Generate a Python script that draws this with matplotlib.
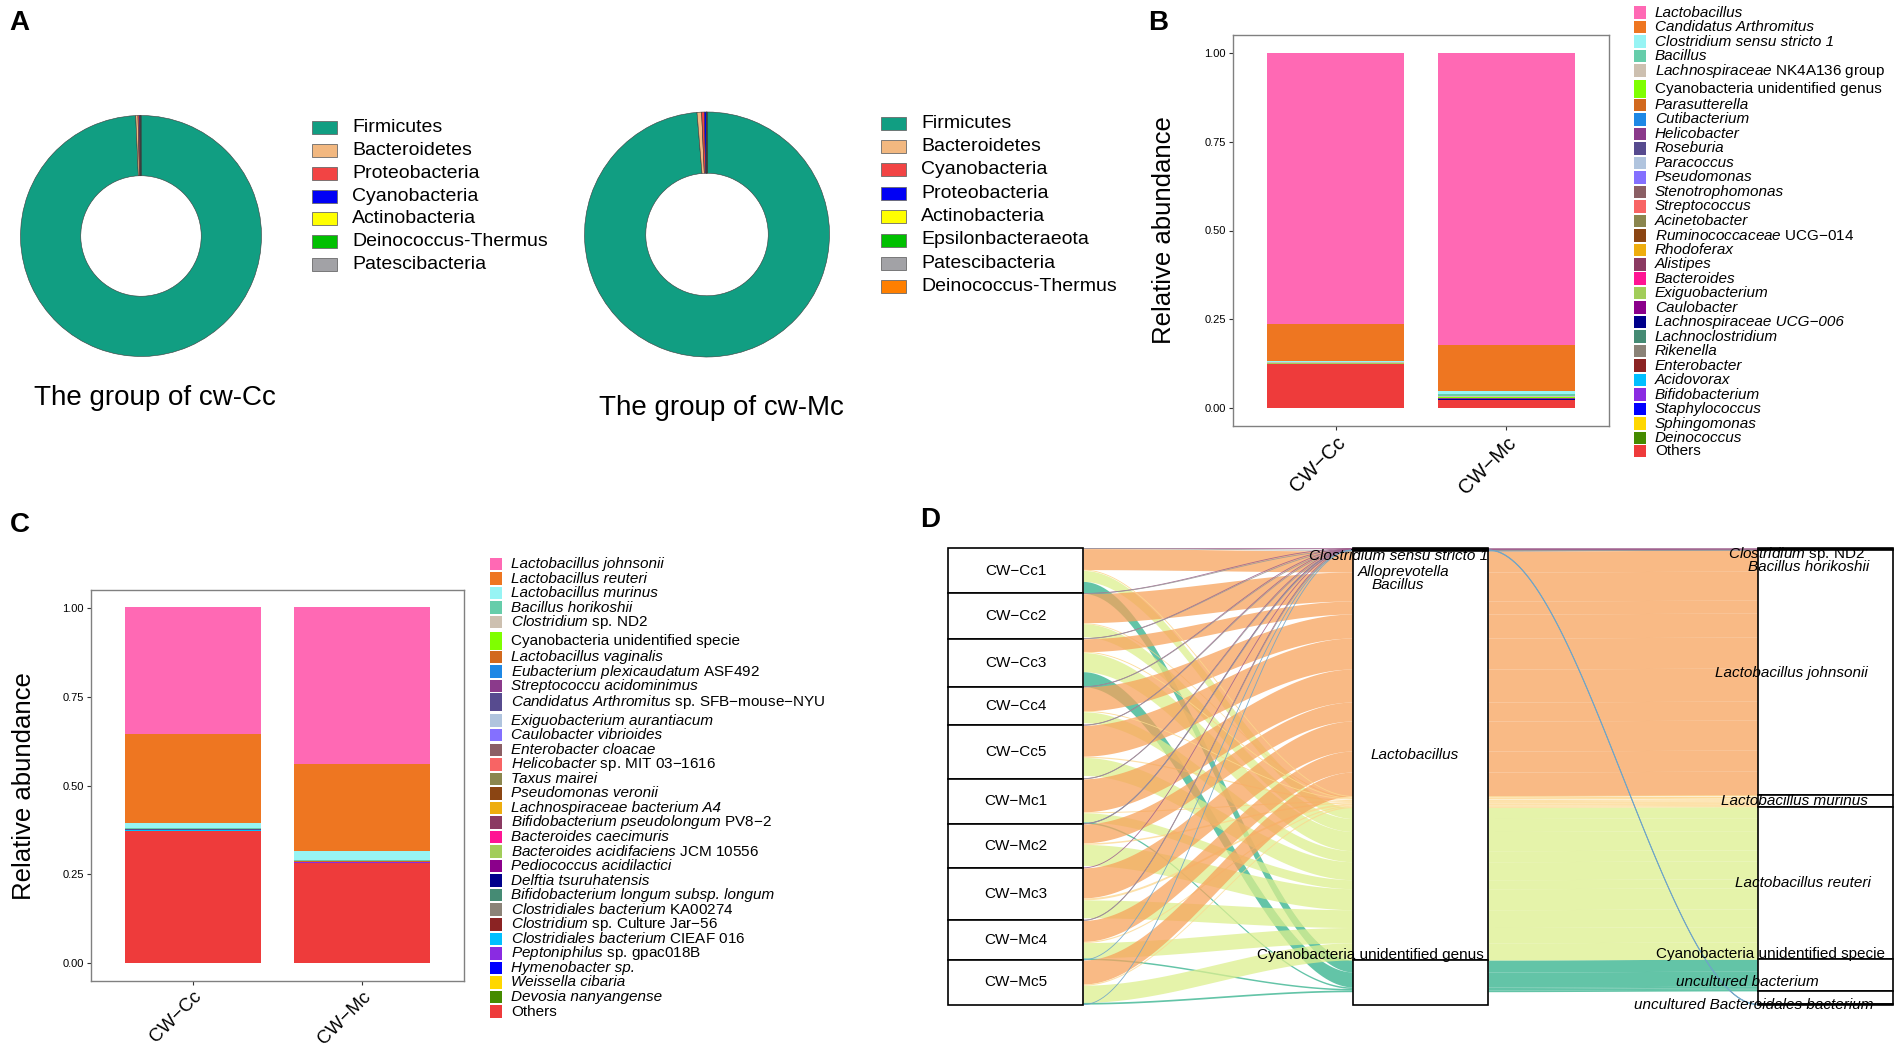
import matplotlib
matplotlib.use("Agg")
import matplotlib.pyplot as plt
from matplotlib.patches import Rectangle
import numpy as np

W, H = 1902, 1049
plt.rcParams["font.family"] = "Liberation Sans"
plt.rcParams["mathtext.fontset"] = "custom"
plt.rcParams["mathtext.it"] = "Liberation Sans:italic"
plt.rcParams["mathtext.rm"] = "Liberation Sans"

# ---------------- data ----------------
# A: phylum composition (%)
phyla_cc = ["Firmicutes", "Bacteroidetes", "Proteobacteria", "Cyanobacteria",
            "Actinobacteria", "Deinococcus-Thermus", "Patescibacteria"]
share_cc = [99.30, 0.30, 0.20, 0.10, 0.04, 0.03, 0.03]
colors_cc = ["#119E82", "#F2B880", "#F24444", "#0000F5", "#FFFF00", "#00C000", "#A2A2A6"]

phyla_mc = ["Firmicutes", "Bacteroidetes", "Cyanobacteria", "Proteobacteria",
            "Actinobacteria", "Epsilonbacteraeota", "Patescibacteria", "Deinococcus-Thermus"]
share_mc = [98.70, 0.60, 0.35, 0.25, 0.05, 0.02, 0.02, 0.01]
colors_mc = ["#119E82", "#F2B880", "#F24444", "#0000F5", "#FFFF00", "#00C000", "#A2A2A6", "#FF7F00"]

# shared 31-colour palette for B and C
palette = ["#FF69B4", "#EE7621", "#97F4F4", "#66CDAA", "#CDC0B0", "#7FFF00", "#D2691E",
           "#1E88E5", "#8B3A8B", "#574B8F", "#B0C4DE", "#8470FF", "#8B5F65", "#F86464",
           "#8B864E", "#8B4513", "#EEAD0E", "#8B3A62", "#FF1493", "#A2CD5A", "#8B008B",
           "#00008B", "#458B74", "#8B8378", "#8B2323", "#00BFFF", "#8A2BE2", "#0000FF",
           "#FFD700", "#458B00", "#EE3B3B"]

groups = ["CW−Cc", "CW−Mc"]

# B: genus level
genera_b = ["*Lactobacillus*", "*Candidatus Arthromitus*", "*Clostridium sensu stricto 1*",
            "*Bacillus*", "*Lachnospiraceae* NK4A136 group", "Cyanobacteria unidentified genus",
            "*Parasutterella*", "*Cutibacterium*", "*Helicobacter*", "*Roseburia*",
            "*Paracoccus*", "*Pseudomonas*", "*Stenotrophomonas*", "*Streptococcus*",
            "*Acinetobacter*", "*Ruminococcaceae* UCG−014", "*Rhodoferax*", "*Alistipes*",
            "*Bacteroides*", "*Exiguobacterium*", "*Caulobacter*", "*Lachnospiraceae UCG−006*",
            "*Lachnoclostridium*", "*Rikenella*", "*Enterobacter*", "*Acidovorax*",
            "*Bifidobacterium*", "*Staphylococcus*", "*Sphingomonas*", "*Deinococcus*", "Others"]
genus_cc = [0.763, 0.106, 0.0012, 0.0006, 0.0015, 0.0004, 0.0003, 0.0002, 0.0003, 0.0002,
            0.0001, 0.0001, 0.0001, 0.0001, 0.0001, 0.0002, 0.0001, 0.0001, 0.0001, 0.0001,
            0.0001, 0.0001, 0.0001, 0.0001, 0.0001, 0.0001, 0.0001, 0.0001, 0.0001, 0.0001, 0.1248]
genus_mc = [0.821, 0.131, 0.008, 0.006, 0.0015, 0.003, 0.0008, 0.0003, 0.0004, 0.0003,
            0.0002, 0.0002, 0.0002, 0.0002, 0.0002, 0.0003, 0.0002, 0.0002, 0.0002, 0.0002,
            0.0002, 0.0002, 0.0002, 0.0001, 0.0001, 0.0001, 0.0001, 0.0001, 0.0001, 0.0001, 0.0235]

# C: species level
species_c = ["*Lactobacillus johnsonii*", "*Lactobacillus reuteri*", "*Lactobacillus murinus*",
             "*Bacillus horikoshii*", "*Clostridium* sp. ND2", "Cyanobacteria unidentified specie",
             "*Lactobacillus vaginalis*", "*Eubacterium plexicaudatum* ASF492",
             "*Streptococcu acidominimus*", "*Candidatus Arthromitus* sp. SFB−mouse−NYU",
             "*Exiguobacterium aurantiacum*", "*Caulobacter vibrioides*", "*Enterobacter cloacae*",
             "*Helicobacter* sp. MIT 03−1616", "*Taxus mairei*", "*Pseudomonas veronii*",
             "*Lachnospiraceae bacterium A4*", "*Bifidobacterium pseudolongum* PV8−2",
             "*Bacteroides caecimuris*", "*Bacteroides acidifaciens* JCM 10556",
             "*Pediococcus acidilactici*", "*Delftia tsuruhatensis*",
             "*Bifidobacterium longum subsp. longum*", "*Clostridiales bacterium* KA00274",
             "*Clostridium* sp. Culture Jar−56", "*Clostridiales bacterium* CIEAF 016",
             "*Peptoniphilus* sp. gpac018B", "*Hymenobacter sp.*", "*Weissella cibaria*",
             "*Devosia nanyangense*", "Others"]
species_cc = [0.358, 0.250, 0.014, 0.0008, 0.0006, 0.0005, 0.0008, 0.0003, 0.0002, 0.0012,
              0.0001, 0.0001, 0.0001, 0.0002, 0.0001, 0.0001, 0.0002, 0.0001, 0.0001, 0.0001,
              0.0001, 0.0001, 0.0001, 0.0001, 0.0001, 0.0001, 0.0001, 0.0001, 0.0001, 0.0001, 0.373]
species_mc = [0.439, 0.247, 0.023, 0.004, 0.0006, 0.0008, 0.0006, 0.0002, 0.0002, 0.0004,
              0.0001, 0.0001, 0.0001, 0.0001, 0.0001, 0.0001, 0.0001, 0.0001, 0.0001, 0.0001,
              0.0001, 0.0001, 0.0001, 0.0001, 0.0001, 0.0001, 0.0001, 0.0001, 0.0001, 0.0001, 0.283]

# D: alluvial sample -> genus -> species (reads, x100)
samples_d = ["CW−Cc1", "CW−Cc2", "CW−Cc3", "CW−Cc4", "CW−Cc5",
             "CW−Mc1", "CW−Mc2", "CW−Mc3", "CW−Mc4", "CW−Mc5"]
genus_d = ["*Clostridium sensu stricto 1*", "*Alloprevotella*", "*Bacillus*",
           "*Lactobacillus*", "Cyanobacteria unidentified genus"]
species_d = ["*Clostridium* sp. ND2", "*Bacillus horikoshii*", "*Lactobacillus johnsonii*",
             "*Lactobacillus murinus*", "*Lactobacillus reuteri*",
             "Cyanobacteria unidentified specie", "*uncultured bacterium*",
             "*uncultured Bacteroidales bacterium*"]
species_genus = [0, 2, 3, 3, 3, 4, 4, 1]
flow_colors = ["#A0628F", "#9A9A9A", "#F7A35C", "#FDD78C", "#DDEF8E", "#2FB08A", "none", "#6FA5C8"]
abund_d = np.array([
    # ND2  hori  john  muri  reut  cyano uncult bactd
    [0.3, 0.1, 21.0, 0.8, 11.0, 12.0, 0.0, 0.0],
    [0.2, 0.1, 29.0, 1.0, 13.0, 0.0, 1.8, 0.0],
    [0.1, 0.1, 13.0, 0.8, 19.2, 15.0, 0.0, 0.0],
    [0.1, 0.1, 24.0, 0.8, 11.0, 0.0, 2.3, 0.0],
    [0.1, 0.1, 31.0, 1.2, 18.0, 0.0, 3.2, 0.0],
    [0.1, 0.1, 33.0, 1.0, 9.0, 1.5, 0.0, 0.4],
    [0.1, 0.1, 19.0, 1.5, 21.0, 0.0, 2.4, 0.0],
    [0.1, 0.0, 30.0, 2.0, 17.8, 0.0, 2.5, 0.0],
    [0.1, 0.1, 21.0, 1.2, 15.3, 1.5, 0.4, 0.2],
    [0.0, 0.0, 24.0, 1.2, 17.2, 1.7, 0.5, 0.2],
])


def rich(label):
    """'*italic* roman' -> (text, style)"""
    if "*" not in label:
        return label, "normal"
    parts = label.split("*")
    if len(parts) == 3 and parts[0] == "" and parts[2] == "":
        return parts[1], "italic"
    out = ""
    for k, p in enumerate(parts):
        out += (r"$\mathit{" + p.replace(" ", r"\ ") + "}$") if k % 2 else p
    return out, "normal"


def px_axes(x0, y0, x1, y1):
    return fig.add_axes([x0 / W, 1 - y1 / H, (x1 - x0) / W, (y1 - y0) / H])


fig = plt.figure(figsize=(W / 100, H / 100), dpi=100)
ov = fig.add_axes([0, 0, 1, 1])
ov.set_xlim(0, W); ov.set_ylim(H, 0); ov.axis("off")

for letter, (lx, ly) in zip("ABCD", [(19, 23), (1158, 23), (20, 525), (930, 520)]):
    ov.text(lx, ly, letter, fontsize=20, fontweight="bold", ha="center", va="center")

# ---------------- A ----------------
def donut(cx, cy, r, shares, colors, names, leg_x, leg_y, leg_step, caption, cap_y):
    ax = px_axes(cx - r, cy - r, cx + r, cy + r)
    ax.pie(shares, colors=colors, startangle=90, counterclock=False, radius=1,
           wedgeprops=dict(width=0.5, edgecolor="#3a3a3a", linewidth=0.4))
    ax.set_xlim(-1, 1); ax.set_ylim(-1, 1); ax.set_aspect("equal")
    for i, (nm, c) in enumerate(zip(names, colors)):
        y = leg_y + i * leg_step
        ov.add_patch(Rectangle((leg_x, y - 6.5), 25, 13, fc=c, ec="#6a6a6a", lw=0.6))
        ov.text(leg_x + 40, y, nm, fontsize=14, va="center")
    ov.text(cx + 14, cap_y, caption, fontsize=20, ha="center", va="center")


donut(141, 236, 120.5, share_cc, colors_cc, phyla_cc, 312, 127.7, 22.8,
      "The group of cw-Cc", 398)
donut(707, 234.5, 122.5, share_mc, colors_mc, phyla_mc, 881, 123, 23.4,
      "The group of cw-Mc", 408)

# ---------------- B, C ----------------
def stacked(ax, vals_by_group, colors, xfs):
    x = np.arange(1, len(groups) + 1)
    bottom = np.zeros(len(groups))
    for k in reversed(range(len(colors))):
        v = np.array([vals[k] for vals in vals_by_group])
        ax.bar(x, v, width=0.8, bottom=bottom, color=colors[k], linewidth=0)
        bottom += v
    ax.set_xlim(0.4, 2.6); ax.set_ylim(-0.05, 1.05)
    ax.set_yticks([0, 0.25, 0.5, 0.75, 1.0], ["0.00", "0.25", "0.50", "0.75", "1.00"])
    ax.set_xticks(x)
    ax.set_xticklabels(groups, rotation=45, ha="right", va="top",
                       rotation_mode="anchor", fontsize=xfs)
    ax.tick_params(axis="y", labelsize=8, length=3, width=0.8, color="#333333", pad=2)
    ax.tick_params(axis="x", length=3, width=0.8, color="#333333", pad=2)
    for sp in ax.spines.values():
        sp.set_color("#808080"); sp.set_linewidth(1.0)


def legend(labels, colors, kx, y0, step, offset, tall):
    for i, (lbl, c) in enumerate(zip(labels, colors)):
        y = y0 + i * step + offset(i)
        kh = 18 if i in tall else 12.5
        ov.add_patch(Rectangle((kx, y - kh / 2), 12, kh, fc=c, ec="none"))
        txt, st = rich(lbl)
        ov.text(kx + 21, y, txt, fontsize=11, style=st, va="center")


axb = px_axes(1233, 35, 1609, 426)
stacked(axb, [genus_cc, genus_mc], palette, 14.5)
ov.text(1164, 230, "Relative abundance", fontsize=18.5, rotation=90, ha="center", va="center")
legend(genera_b, palette, 1634, 12.7, 14.48,
       lambda i: 0 if i < 5 else (4 if i == 5 else (5.4 if i < 30 else 4.0)), {5})

axc = px_axes(91, 590, 464, 981)
stacked(axc, [species_cc, species_mc], palette, 13.5)
ov.text(24, 786, "Relative abundance", fontsize=18.5, rotation=90, ha="center", va="center")
legend(species_c, palette, 490, 564, 14.54,
       lambda i: 0 if i < 5 else (4 if i == 5 else (5.8 if i < 9 else (7.1 if i == 9 else 11.3))),
       {5, 9})

# ---------------- D ----------------
axd = px_axes(948, 548.2, 1893, 1004.8)
n_s, n_sp = abund_d.shape
total = abund_d.sum()
axd.set_xlim(1 - 1 / 6, 3 + 1 / 6); axd.set_ylim(total, 0); axd.axis("off")

# lode positions on each axis
pos1, pos2, pos3 = {}, {}, {}
sbox, gbox, spbox = [], [], []
y = 0
for i in range(n_s):
    y0 = y
    for j in range(n_sp):
        if abund_d[i, j] > 0:
            pos1[(i, j)] = (y, y + abund_d[i, j]); y += abund_d[i, j]
    sbox.append((y0, y))
y = 0
for g in range(len(genus_d)):
    y0 = y
    for j in [j for j in range(n_sp) if species_genus[j] == g]:
        for i in range(n_s):
            if abund_d[i, j] > 0:
                pos2[(i, j)] = (y, y + abund_d[i, j]); y += abund_d[i, j]
    gbox.append((y0, y))
y = 0
for j in range(n_sp):
    y0 = y
    for i in range(n_s):
        if abund_d[i, j] > 0:
            pos3[(i, j)] = (y, y + abund_d[i, j]); y += abund_d[i, j]
    spbox.append((y0, y))

t = np.linspace(0, 1, 80)
s = t * t * (3 - 2 * t)


def flow(xa, xb, a, b, color, thin):
    xs = xa + (xb - xa) * t
    top = a[0] + (b[0] - a[0]) * s
    bot = a[1] + (b[1] - a[1]) * s
    if thin:
        axd.plot(xs, (top + bot) / 2, color=color, lw=0.6, alpha=0.9, zorder=2)
    else:
        axd.fill_between(xs, top, bot, color=color, alpha=0.75, lw=0, zorder=1)


for i in range(n_s):
    for j in range(n_sp):
        if (i, j) not in pos1 or flow_colors[j] == "none":
            continue
        thin = abund_d[i, j] < 1
        flow(1 + 1 / 6, 2 - 1 / 6, pos1[(i, j)], pos2[(i, j)], flow_colors[j], thin)
        flow(2 + 1 / 6, 3 - 1 / 6, pos2[(i, j)], pos3[(i, j)], flow_colors[j], thin)


def strata(xc, boxes):
    for (a, b) in boxes:
        axd.add_patch(Rectangle((xc - 1 / 6, a), 1 / 3, b - a, fc="white", ec="black",
                                lw=1.2, zorder=3, clip_on=False))


strata(1, sbox); strata(2, gbox); strata(3, spbox)
for name, (a, b) in zip(samples_d, sbox):
    axd.text(1, (a + b) / 2, name, fontsize=11, ha="center", va="center", zorder=4)

# label nudges (pixels) relative to stratum centres
genus_nudge = [(-21.5, 7.1), (-17, 22.2), (-23, 34.4), (-5.6, -0.5), (-50.4, -27.4)]
species_nudge = [(-29, 5.2), (-17, 16.8), (-34, 0), (-31, 0), (-22.5, 0),
                 (-55, -21.3), (-78, -15.6), (-72, 0.4)]
for xc, names, boxes, nudges in [(2, genus_d, gbox, genus_nudge),
                                 (3, species_d, spbox, species_nudge)]:
    for name, (a, b), (dx, dy) in zip(names, boxes, nudges):
        txt, st = rich(name)
        axd.annotate(txt, (xc, (a + b) / 2), xytext=(dx * 0.72, -dy * 0.72),
                     textcoords="offset points", fontsize=11, style=st,
                     ha="center", va="center", zorder=5, annotation_clip=False)

fig.savefig("out.png", dpi=100)
